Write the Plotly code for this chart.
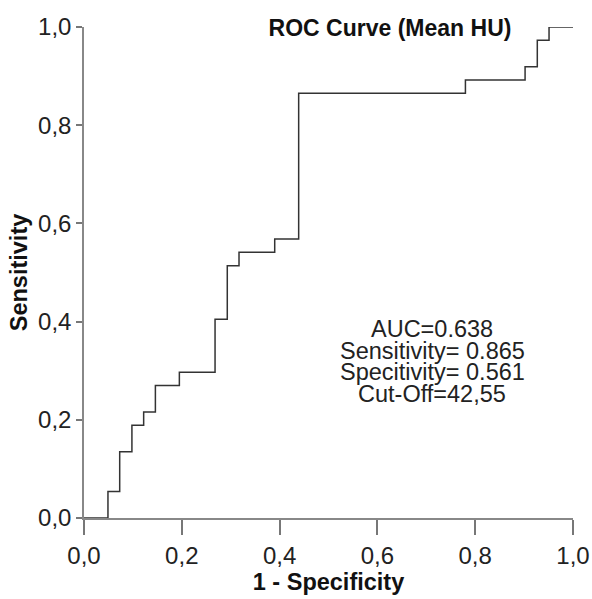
import plotly.graph_objects as go

# ROC curve points (1 - specificity, sensitivity)
fpr = [0.0, 0.049, 0.073, 0.098, 0.122, 0.146, 0.195, 0.268, 0.293, 0.317,
       0.390, 0.439, 0.780, 0.902, 0.927, 0.951, 1.0]
tpr = [0.0, 0.054, 0.135, 0.189, 0.216, 0.270, 0.297, 0.405, 0.514, 0.541,
       0.568, 0.865, 0.892, 0.919, 0.973, 1.0, 1.0]

tick_vals = [0.0, 0.2, 0.4, 0.6, 0.8, 1.0]
tick_text = ["0,0", "0,2", "0,4", "0,6", "0,8", "1,0"]

title_text = "ROC Curve (Mean HU)"
x_title = "1 - Specificity"
y_title = "Sensitivity"
stats_lines = ["AUC=0.638", "Sensitivity= 0.865", "Specitivity= 0.561", "Cut-Off=42,55"]
stats_y = [0.385, 0.341, 0.297, 0.253]

FONT = "Liberation Sans, Arial, sans-serif"

W, H = 592, 599

fig = go.Figure()
fig.add_trace(go.Scatter(
    x=fpr, y=tpr, mode="lines", line=dict(color="#333333", width=1.5, shape="hv"),
    showlegend=False, hoverinfo="skip"))

for txt, yy in zip(stats_lines, stats_y):
    fig.add_annotation(x=0.712, y=yy, xref="x", yref="y", text=txt, showarrow=False,
                       xanchor="center", yanchor="middle",
                       font=dict(family=FONT, size=23.5, color="#222222"))

fig.update_layout(
    width=W, height=H,
    margin=dict(l=84, r=19, t=27, b=81),
    paper_bgcolor="white", plot_bgcolor="white",
    title=dict(text="<b>" + title_text + "</b>", x=390 / W, xanchor="center",
               y=1 - 28 / H, yanchor="middle", yref="container",
               font=dict(family=FONT, size=23, color="#111111")),
    font=dict(family=FONT, size=22, color="#222222"),
)
fig.update_xaxes(
    range=[0, 1], tickvals=tick_vals, ticktext=tick_text, automargin=False,
    showgrid=False, zeroline=False, showline=True, linecolor="#888888", linewidth=1.5,
    ticks="outside", ticklen=15, tickwidth=1.5, tickcolor="#777777",
    tickfont=dict(family=FONT, size=24, color="#222222"),
    title=dict(text="<b>" + x_title + "</b>", standoff=6,
               font=dict(family=FONT, size=23.5, color="#111111")),
)
fig.update_yaxes(
    range=[0, 1], tickvals=tick_vals, ticktext=tick_text, automargin=False,
    showgrid=False, zeroline=False, showline=True, linecolor="#888888", linewidth=1.5,
    ticks="outside", ticklen=6, tickwidth=1.5, tickcolor="#777777",
    tickfont=dict(family=FONT, size=24, color="#222222"),
    title=dict(text="<b>" + y_title + "</b>", standoff=4,
               font=dict(family=FONT, size=23.5, color="#111111")),
)

# remove the default 8px page margin so the figure fills the window exactly
fig.write_html("out.html", config={"displayModeBar": False},
               post_script="document.body.style.margin='0';document.body.style.overflow='hidden';")
